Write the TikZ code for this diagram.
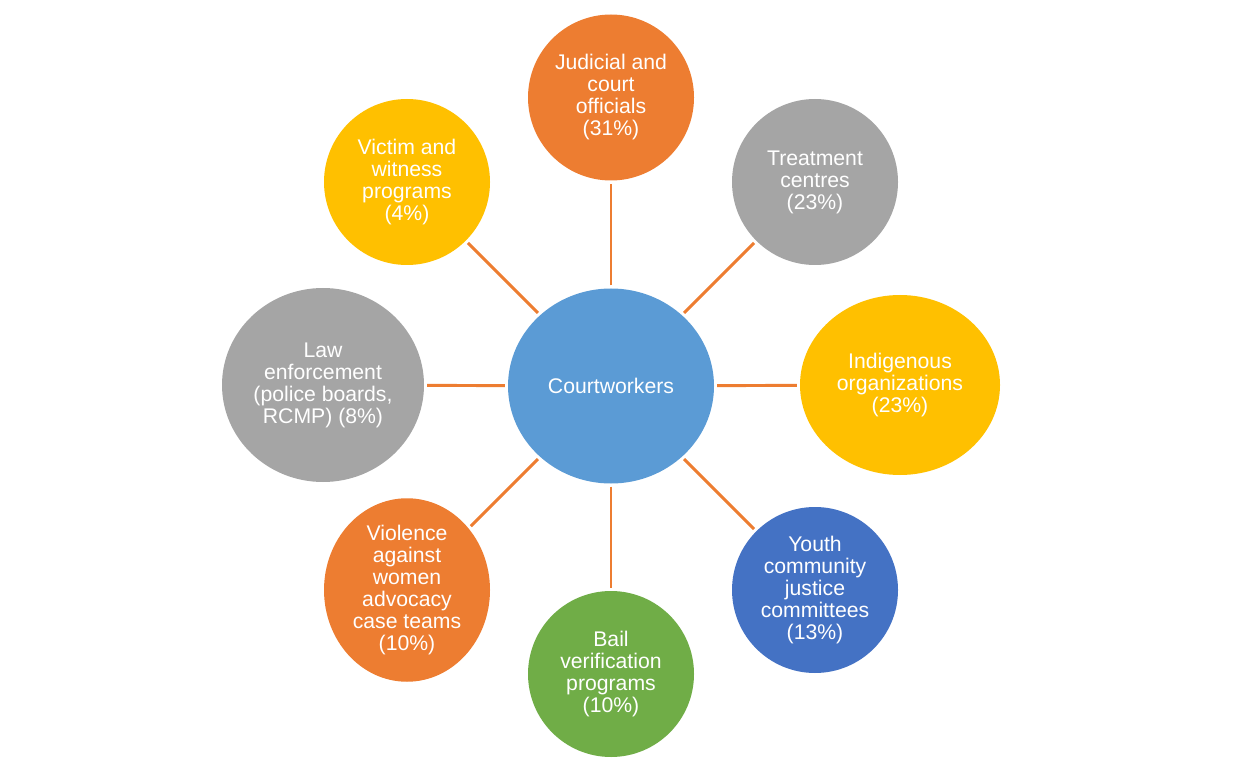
\documentclass[tikz,border=0pt]{standalone}
\usepackage{fontspec}
\setmainfont{Liberation Sans}
\usetikzlibrary{shapes.geometric}
\definecolor{corange}{HTML}{ED7D31}
\definecolor{cgray}{HTML}{A5A5A5}
\definecolor{cgold}{HTML}{FFC000}
\definecolor{clblue}{HTML}{5B9BD5}
\definecolor{cdblue}{HTML}{4472C4}
\definecolor{cgreen}{HTML}{70AD47}
\tikzset{
  bubble/.style={ellipse, inner sep=0pt, align=center, text=white,
    font=\fontsize{15.9pt}{16.5pt}\selectfont},
  small/.style={bubble, minimum width=166\pxu, minimum height=166\pxu},
  conn/.style={draw=corange, line width=2.2pt, shorten >=2.2pt, shorten <=2.2pt}
}
\newlength{\pxu}
\setlength{\pxu}{0.75pt}
\begin{document}
\begin{tikzpicture}[x=0.75pt,y=-0.75pt]
\useasboundingbox (0,0) rectangle (1234,773);
\node[bubble, fill=clblue, minimum width=206\pxu, minimum height=195\pxu] (c) at (611,386) {Courtworkers};
\node[small, fill=corange] (j) at (611,97.5) {Judicial and\\court\\officials\\(31\%)};
\node[small, fill=cgray] (t) at (815,182) {Treatment\\centres\\(23\%)};
\node[bubble, fill=cgold, minimum width=200\pxu, minimum height=180\pxu] (i) at (900,385) {Indigenous\\organizations\\(23\%)};
\node[small, fill=cdblue] (y) at (815,590) {Youth\\community\\justice\\committees\\(13\%)};
\node[small, fill=cgreen] (b) at (611,674) {Bail\\verification\\programs\\(10\%)};
\node[small, fill=corange] (v) at (407,590) {Violence\\against\\women\\advocacy\\case teams\\(10\%)};
\node[bubble, fill=cgray, minimum width=202\pxu, minimum height=194\pxu] (l) at (323,385) {Law\\enforcement\\(police boards,\\RCMP) (8\%)};
\node[small, fill=cgold] (w) at (407,182) {Victim and\\witness\\programs\\(4\%)};
\foreach \n in {j,t,i,y,b,v,l,w} {\draw[conn] (c) -- (\n);}
\end{tikzpicture}
\end{document}
